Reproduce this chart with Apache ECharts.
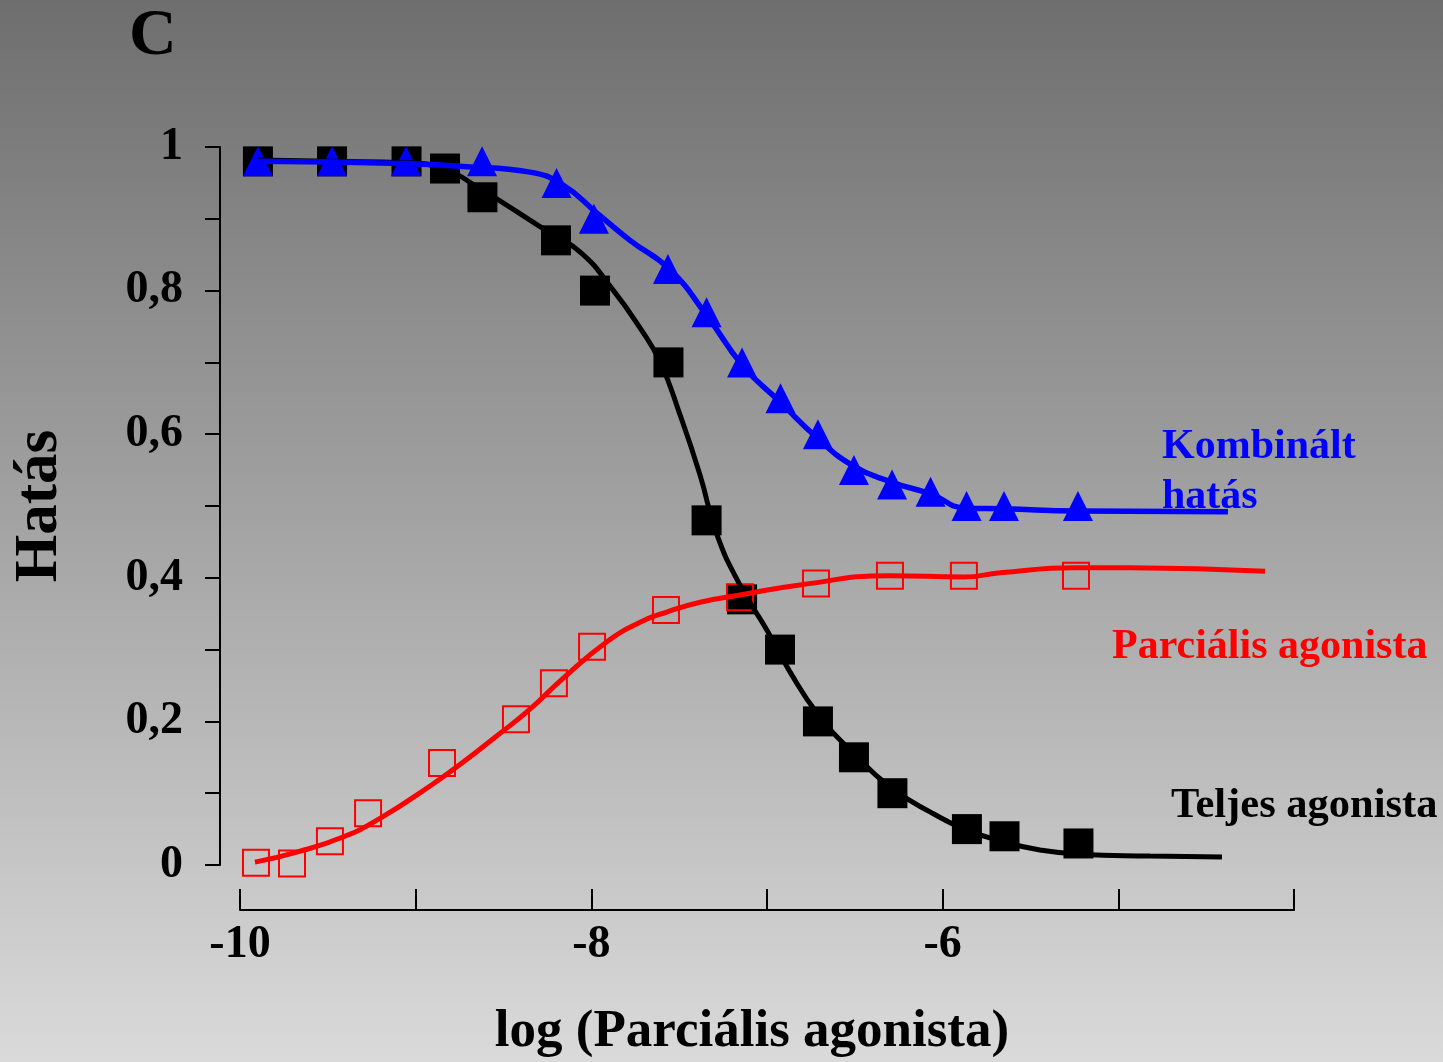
<!DOCTYPE html>
<html>
<head>
<meta charset="utf-8">
<script src="https://cdn.jsdelivr.net/npm/echarts@6/dist/echarts.min.js"></script>
<style>html,body{margin:0;padding:0;}#chart{width:1443px;height:1062px;}</style>
</head>
<body>
<div id="chart"></div>
<script>
// ---- Data ----
const xTickLabels = [-10, -8, -6];
const yTickLabels = [0, 0.2, 0.4, 0.6, 0.8, 1];

// Teljes agonista (black filled squares)
const teljesX = [-9.898, -9.476, -9.052, -8.833, -8.620, -8.201, -7.979, -7.561, -7.344, -7.142, -6.926, -6.710, -6.505, -6.286, -5.862, -5.648, -5.227];
const teljesY = [0.98, 0.98, 0.98, 0.97, 0.93, 0.87, 0.80, 0.70, 0.48, 0.37, 0.30, 0.20, 0.15, 0.10, 0.05, 0.04, 0.03];
// fitted curve (black)
const teljesFitX = [-9.903, -9.488, -9.061, -8.833, -8.622, -8.520, -8.292, -8.065, -7.877, -7.723, -7.609, -7.495, -7.381, -7.285, -7.154, -7.000, -6.869, -6.710, -6.505, -6.288, -6.072, -5.862, -5.651, -5.446, -5.218, -4.820, -4.410];
const teljesFitY = [0.982, 0.980, 0.978, 0.969, 0.940, 0.925, 0.889, 0.854, 0.801, 0.748, 0.701, 0.627, 0.543, 0.460, 0.390, 0.327, 0.269, 0.210, 0.155, 0.107, 0.074, 0.049, 0.032, 0.021, 0.015, 0.0125, 0.011];

// Parciális agonista (red hollow squares)
const parcX = [-9.909, -9.704, -9.488, -9.271, -8.850, -8.429, -8.213, -7.996, -7.575, -7.154, -6.721, -6.300, -5.879, -5.241];
const parcY = [0.003, 0.002, 0.033, 0.072, 0.142, 0.203, 0.253, 0.304, 0.355, 0.373, 0.392, 0.403, 0.403, 0.403];
const parcFitX = [-9.915, -9.676, -9.414, -9.203, -8.918, -8.731, -8.537, -8.349, -8.161, -7.911, -7.723, -7.575, -7.381, -7.154, -6.812, -6.300, -5.879, -5.674, -5.241, -4.934, -4.165];
const parcFitY = [0.004, 0.018, 0.039, 0.065, 0.110, 0.143, 0.180, 0.217, 0.260, 0.311, 0.338, 0.352, 0.366, 0.376, 0.390, 0.403, 0.401, 0.407, 0.414, 0.414, 0.409];

// Kombinált hatás (blue triangles)
const kombX = [-9.898, -9.476, -9.055, -8.622, -8.198, -7.985, -7.564, -7.344, -7.142, -6.923, -6.710, -6.505, -6.288, -6.069, -5.864, -5.651, -5.230];
const kombY = [0.98, 0.98, 0.98, 0.98, 0.95, 0.90, 0.83, 0.77, 0.70, 0.65, 0.60, 0.55, 0.53, 0.52, 0.50, 0.50, 0.50];
const kombFitX = [-9.903, -9.488, -9.061, -8.731, -8.349, -8.161, -7.968, -7.780, -7.552, -7.342, -7.137, -6.926, -6.715, -6.510, -6.288, -6.072, -5.867, -5.651, -5.230, -4.376];
const kombFitY = [0.980, 0.979, 0.977, 0.973, 0.965, 0.947, 0.908, 0.870, 0.829, 0.765, 0.695, 0.645, 0.595, 0.556, 0.533, 0.517, 0.497, 0.496, 0.493, 0.492];

const seriesNames = ['Teljes agonista', 'Parciális agonista', 'Kombinált hatás'];

// ---- Build ----
const FONT = "'Liberation Serif', 'Times New Roman', serif";
const zip = (xs, ys) => xs.map((x, i) => [x, ys[i]]);
const fmtY = v => {
  const r = Math.round(v * 10) / 10;
  return yTickLabels.some(t => Math.abs(t - r) < 1e-6) ? String(r).replace('.', ',') : '';
};
const fmtX = v => xTickLabels.some(t => Math.abs(t - v) < 1e-6) ? String(v) : '';
const txt = (x, y, text, size, color) => ({
  type: 'text', x: x, y: y,
  style: {text: text, font: 'bold ' + size + 'px ' + FONT, fill: color,
          textAlign: 'left', textVerticalAlign: 'middle', align: 'left', verticalAlign: 'middle'}
});

const chart = echarts.init(document.getElementById('chart'), null, {renderer: 'canvas'});
const option = {
  animation: false,
  backgroundColor: new echarts.graphic.LinearGradient(0, 0, 0, 1, [
    {offset: 0, color: '#6e6e6e'},
    {offset: 1, color: '#dadada'}
  ]),
  grid: {left: 240, top: 147, width: 1054, height: 718, containLabel: false, outerBoundsMode: 'none'},
  xAxis: {
    type: 'value', min: -10, max: -4, interval: 1, position: 'bottom', offset: 45,
    axisLine: {show: true, onZero: false, lineStyle: {color: '#000', width: 2}},
    axisTick: {show: true, inside: true, length: 21, lineStyle: {color: '#000', width: 2}},
    axisLabel: {show: true, margin: 12, color: '#000', fontSize: 46, fontWeight: 'bold', fontFamily: FONT, formatter: fmtX},
    splitLine: {show: false},
    name: 'log (Parciális agonista)', nameLocation: 'middle', nameGap: 122,
    nameTextStyle: {color: '#000', fontSize: 53, fontWeight: 'bold', fontFamily: FONT, verticalAlign: 'middle', padding: [0, 30, 0, 0]}
  },
  yAxis: {
    type: 'value', min: 0, max: 1, interval: 0.1, position: 'left', offset: 20,
    axisLine: {show: true, onZero: false, lineStyle: {color: '#000', width: 2}},
    axisTick: {show: true, inside: false, length: 15, lineStyle: {color: '#000', width: 2}},
    axisLabel: {show: true, margin: 37, color: '#000', fontSize: 46, fontWeight: 'bold', fontFamily: FONT, formatter: fmtY},
    splitLine: {show: false},
    name: 'Hatás', nameLocation: 'middle', nameGap: 180,
    nameTextStyle: {color: '#000', fontSize: 61, fontWeight: 'bold', fontFamily: FONT, verticalAlign: 'middle'}
  },
  series: [
    {name: seriesNames[0] + ' (illesztés)', type: 'line', data: zip(teljesFitX, teljesFitY), smooth: 0.5, showSymbol: false, silent: true,
     lineStyle: {color: '#000', width: 5, opacity: 1}},
    {name: seriesNames[0], type: 'scatter', data: zip(teljesX, teljesY), symbol: 'rect', symbolSize: 30,
     itemStyle: {color: '#000', opacity: 1}},
    {name: seriesNames[1] + ' (illesztés)', type: 'line', data: zip(parcFitX, parcFitY), smooth: 0.5, showSymbol: false, silent: true,
     lineStyle: {color: '#ff0000', width: 5, opacity: 1}},
    {name: seriesNames[1], type: 'scatter', data: zip(parcX, parcY), symbol: 'rect', symbolSize: 26,
     itemStyle: {color: 'rgba(0,0,0,0)', borderColor: '#ff0000', borderWidth: 2, opacity: 1}},
    {name: seriesNames[2] + ' (illesztés)', type: 'line', data: zip(kombFitX, kombFitY), smooth: 0.5, showSymbol: false, silent: true,
     lineStyle: {color: '#0000ff', width: 5.5, opacity: 1}},
    {name: seriesNames[2], type: 'scatter', data: zip(kombX, kombY), symbol: 'triangle', symbolSize: 30,
     itemStyle: {color: '#0000ff', opacity: 1}}
  ],
  graphic: [
    txt(129, 37, 'C', 66, '#000'),
    txt(1162, 447, 'Kombinált', 42, '#0000ff'),
    txt(1162, 497, 'hatás', 42, '#0000ff'),
    txt(1112, 647, 'Parciális agonista', 42, '#ff0000'),
    txt(1171, 806, 'Teljes agonista', 42.5, '#000')
  ]
};
chart.setOption(option);
</script>
</body>
</html>
